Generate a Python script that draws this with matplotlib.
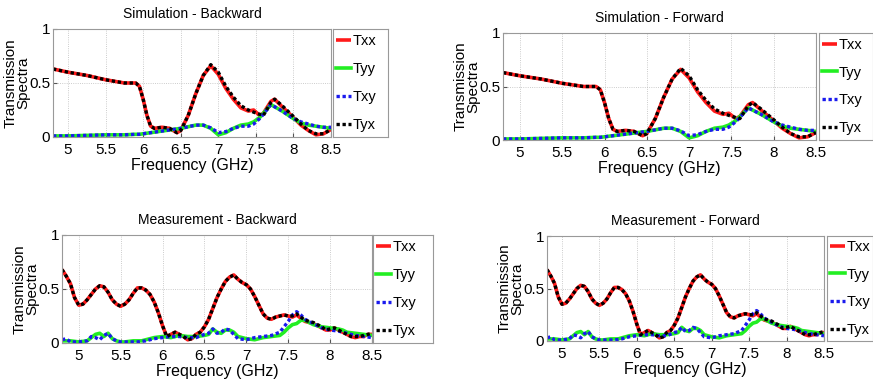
import matplotlib

matplotlib.use("Agg")
import matplotlib.pyplot as plt
import numpy as np

plt.rcParams["font.family"] = ["Liberation Sans", "DejaVu Sans"]

# ---- simulation (smooth) spectra ----
sim_freq = [4.8, 5.0, 5.25, 5.5, 5.75, 5.9, 5.95, 6.0, 6.05, 6.1, 6.15, 6.25,
            6.35, 6.45, 6.5, 6.6, 6.7, 6.8, 6.9, 7.0, 7.1, 7.2, 7.3, 7.4,
            7.47, 7.55, 7.6, 7.7, 7.75, 7.85, 8.0, 8.1, 8.2, 8.3, 8.4, 8.5]
sim_txx = [0.63, 0.60, 0.57, 0.53, 0.50, 0.50, 0.47, 0.35, 0.20, 0.10, 0.08, 0.09,
           0.08, 0.04, 0.06, 0.20, 0.40, 0.57, 0.66, 0.58, 0.45, 0.35, 0.27, 0.24,
           0.25, 0.20, 0.22, 0.33, 0.35, 0.28, 0.18, 0.11, 0.06, 0.02, 0.03, 0.07]
sim_tyx = [0.63, 0.60, 0.57, 0.53, 0.50, 0.50, 0.47, 0.35, 0.20, 0.10, 0.08, 0.09,
           0.08, 0.04, 0.06, 0.20, 0.40, 0.57, 0.67, 0.60, 0.47, 0.37, 0.29, 0.25,
           0.23, 0.21, 0.20, 0.32, 0.35, 0.29, 0.19, 0.12, 0.06, 0.03, 0.03, 0.07]
sim_tyy = [0.01, 0.01, 0.015, 0.02, 0.02, 0.025, 0.025, 0.03, 0.035, 0.04, 0.045, 0.055,
           0.065, 0.075, 0.08, 0.095, 0.11, 0.11, 0.08, 0.02, 0.04, 0.08, 0.11, 0.12,
           0.14, 0.18, 0.22, 0.30, 0.28, 0.24, 0.17, 0.13, 0.11, 0.10, 0.09, 0.08]
sim_txy = [0.01, 0.01, 0.015, 0.02, 0.02, 0.025, 0.025, 0.03, 0.035, 0.04, 0.045, 0.055,
           0.065, 0.075, 0.08, 0.095, 0.11, 0.11, 0.085, 0.04, 0.05, 0.08, 0.10, 0.10,
           0.12, 0.17, 0.21, 0.30, 0.28, 0.24, 0.17, 0.14, 0.12, 0.10, 0.09, 0.09]

# ---- measured spectra ----
meas_freq = [4.8, 4.85, 4.9, 4.95, 5.0, 5.05, 5.1, 5.15, 5.2, 5.25, 5.3, 5.35,
             5.4, 5.45, 5.5, 5.55, 5.6, 5.65, 5.7, 5.75, 5.8, 5.85, 5.9, 5.95,
             6.0, 6.05, 6.1, 6.15, 6.2, 6.25, 6.3, 6.35, 6.4, 6.45, 6.5, 6.55,
             6.6, 6.65, 6.7, 6.75, 6.8, 6.85, 6.9, 6.95, 7.0, 7.05, 7.1, 7.15,
             7.2, 7.25, 7.3, 7.35, 7.4, 7.45, 7.5, 7.55, 7.6, 7.65, 7.7, 7.75,
             7.8, 7.85, 7.9, 7.95, 8.0, 8.05, 8.1, 8.15, 8.2, 8.25, 8.3, 8.35,
             8.4, 8.45, 8.5]
meas_txx = [0.68, 0.62, 0.55, 0.42, 0.35, 0.36, 0.40, 0.45, 0.50, 0.53, 0.52, 0.47,
            0.40, 0.36, 0.34, 0.36, 0.40, 0.46, 0.51, 0.51, 0.49, 0.45, 0.38, 0.28,
            0.16, 0.06, 0.08, 0.10, 0.08, 0.06, 0.03, 0.04, 0.08, 0.10, 0.15, 0.22,
            0.32, 0.42, 0.50, 0.57, 0.61, 0.63, 0.59, 0.56, 0.54, 0.50, 0.43, 0.35,
            0.27, 0.23, 0.22, 0.24, 0.25, 0.26, 0.25, 0.24, 0.26, 0.23, 0.20, 0.19,
            0.18, 0.16, 0.14, 0.12, 0.12, 0.14, 0.12, 0.10, 0.08, 0.06, 0.05, 0.06,
            0.06, 0.08, 0.08]
meas_tyx = [0.68, 0.62, 0.55, 0.42, 0.35, 0.36, 0.40, 0.45, 0.50, 0.53, 0.52, 0.47,
            0.40, 0.36, 0.34, 0.36, 0.40, 0.46, 0.51, 0.51, 0.49, 0.45, 0.38, 0.28,
            0.16, 0.06, 0.08, 0.10, 0.08, 0.06, 0.03, 0.04, 0.08, 0.10, 0.15, 0.22,
            0.32, 0.42, 0.50, 0.57, 0.61, 0.63, 0.59, 0.56, 0.54, 0.50, 0.43, 0.35,
            0.27, 0.23, 0.22, 0.24, 0.25, 0.26, 0.25, 0.25, 0.27, 0.24, 0.21, 0.20,
            0.19, 0.17, 0.15, 0.12, 0.13, 0.14, 0.12, 0.10, 0.08, 0.06, 0.06, 0.06,
            0.07, 0.08, 0.09]
meas_tyy = [0.02, 0.02, 0.02, 0.015, 0.01, 0.015, 0.02, 0.05, 0.08, 0.09, 0.06, 0.09,
            0.04, 0.02, 0.01, 0.01, 0.015, 0.02, 0.02, 0.02, 0.03, 0.04, 0.05, 0.055,
            0.06, 0.055, 0.05, 0.06, 0.07, 0.065, 0.06, 0.06, 0.06, 0.065, 0.07, 0.08,
            0.13, 0.10, 0.09, 0.12, 0.12, 0.10, 0.06, 0.05, 0.04, 0.035, 0.03, 0.04,
            0.05, 0.055, 0.06, 0.065, 0.07, 0.10, 0.14, 0.17, 0.18, 0.21, 0.21, 0.19,
            0.17, 0.16, 0.15, 0.145, 0.14, 0.135, 0.13, 0.12, 0.10, 0.095, 0.09, 0.085,
            0.08, 0.075, 0.07]
meas_txy = [0.03, 0.04, 0.01, 0.01, 0.01, 0.015, 0.02, 0.06, 0.05, 0.03, 0.07, 0.09,
            0.04, 0.02, 0.01, 0.01, 0.01, 0.01, 0.01, 0.015, 0.02, 0.03, 0.04, 0.045,
            0.05, 0.055, 0.06, 0.06, 0.06, 0.055, 0.05, 0.05, 0.05, 0.065, 0.08, 0.09,
            0.13, 0.09, 0.10, 0.13, 0.12, 0.08, 0.04, 0.035, 0.03, 0.04, 0.05, 0.055,
            0.06, 0.065, 0.07, 0.085, 0.10, 0.15, 0.20, 0.26, 0.29, 0.26, 0.22, 0.20,
            0.18, 0.16, 0.14, 0.13, 0.12, 0.115, 0.11, 0.10, 0.09, 0.08, 0.07, 0.065,
            0.06, 0.055, 0.05]

freq_ticks = [5, 5.5, 6, 6.5, 7, 7.5, 8, 8.5]
y_ticks = [0, 0.5, 1]
series_labels = ["Txx", "Tyy", "Txy", "Tyx"]

W, H = 873, 382


def px_box(x0, y0, x1, y1):
    """Pixel box (top-left origin) -> figure fraction rect."""
    return [x0 / W, 1 - y1 / H, (x1 - x0) / W, (y1 - y0) / H]


def draw_panel(fig, axbox, legbox, title, freq, txx, tyy, txy, tyx):
    ax = fig.add_axes(px_box(*axbox))
    h1, = ax.plot(freq, txx, color="#ff1a1a", lw=2.6, solid_capstyle="butt")
    h2, = ax.plot(freq, tyy, color="#22ee22", lw=2.6)
    h3, = ax.plot(freq, txy, color="#1a1aee", lw=2.4, ls=(0, (1, 0.8)))
    h4, = ax.plot(freq, tyx, color="black", lw=2.4, ls=(0, (1, 0.8)))
    ax.set_xlim(4.8, 8.5)
    ax.set_ylim(0, 1)
    ax.set_xticks(freq_ticks)
    ax.set_xticklabels([f"{t:g}" for t in freq_ticks])
    ax.set_yticks(y_ticks)
    ax.set_yticklabels([f"{t:g}" for t in y_ticks])
    ax.tick_params(direction="in", length=3, labelsize=11, color="#555555")
    ax.tick_params(axis="x", pad=4)
    ax.tick_params(axis="y", pad=2)
    ax.grid(True, ls=":", lw=0.6, color="#bbbbbb")
    for sp in ax.spines.values():
        sp.set_color("#999999")
        sp.set_linewidth(0.8)
    ax.set_title(title, fontsize=10, pad=8)
    ax.set_xlabel("Frequency (GHz)", fontsize=11.5, labelpad=1)
    ax.set_ylabel("Transmission\nSpectra", fontsize=11, linespacing=0.85)
    # anchor is the right edge of the (rotated) two-line label block
    ax_w = axbox[2] - axbox[0]
    ax.yaxis.set_label_coords(-23 / ax_w, 0.5)

    lax = fig.add_axes(px_box(*legbox))
    lax.set_xticks([])
    lax.set_yticks([])
    for sp in lax.spines.values():
        sp.set_color("#999999")
        sp.set_linewidth(0.8)
    lax.legend([h1, h2, h3, h4], series_labels, loc="center left",
               frameon=False, fontsize=10.5, handlelength=1.0,
               handletextpad=0.15, labelspacing=0.95, borderaxespad=0.0,
               borderpad=0.2)


fig = plt.figure(figsize=(W / 100, H / 100), dpi=100)

draw_panel(fig, (53, 29, 331, 137), (333, 29, 388, 137),
           "Simulation - Backward", sim_freq, sim_txx, sim_tyy, sim_txy, sim_tyx)
draw_panel(fig, (503, 33, 816, 140), (819, 33, 873, 140),
           "Simulation - Forward", sim_freq, sim_txx, sim_tyy, sim_txy, sim_tyx)
draw_panel(fig, (62, 235, 372, 343), (373, 235, 433, 343),
           "Measurement - Backward", meas_freq, meas_txx, meas_tyy, meas_txy, meas_tyx)
draw_panel(fig, (547, 236, 824, 341), (827, 236, 873, 341),
           "Measurement - Forward", meas_freq, meas_txx, meas_tyy, meas_txy, meas_tyx)

fig.savefig("out.png", dpi=100)
plt.close(fig)
